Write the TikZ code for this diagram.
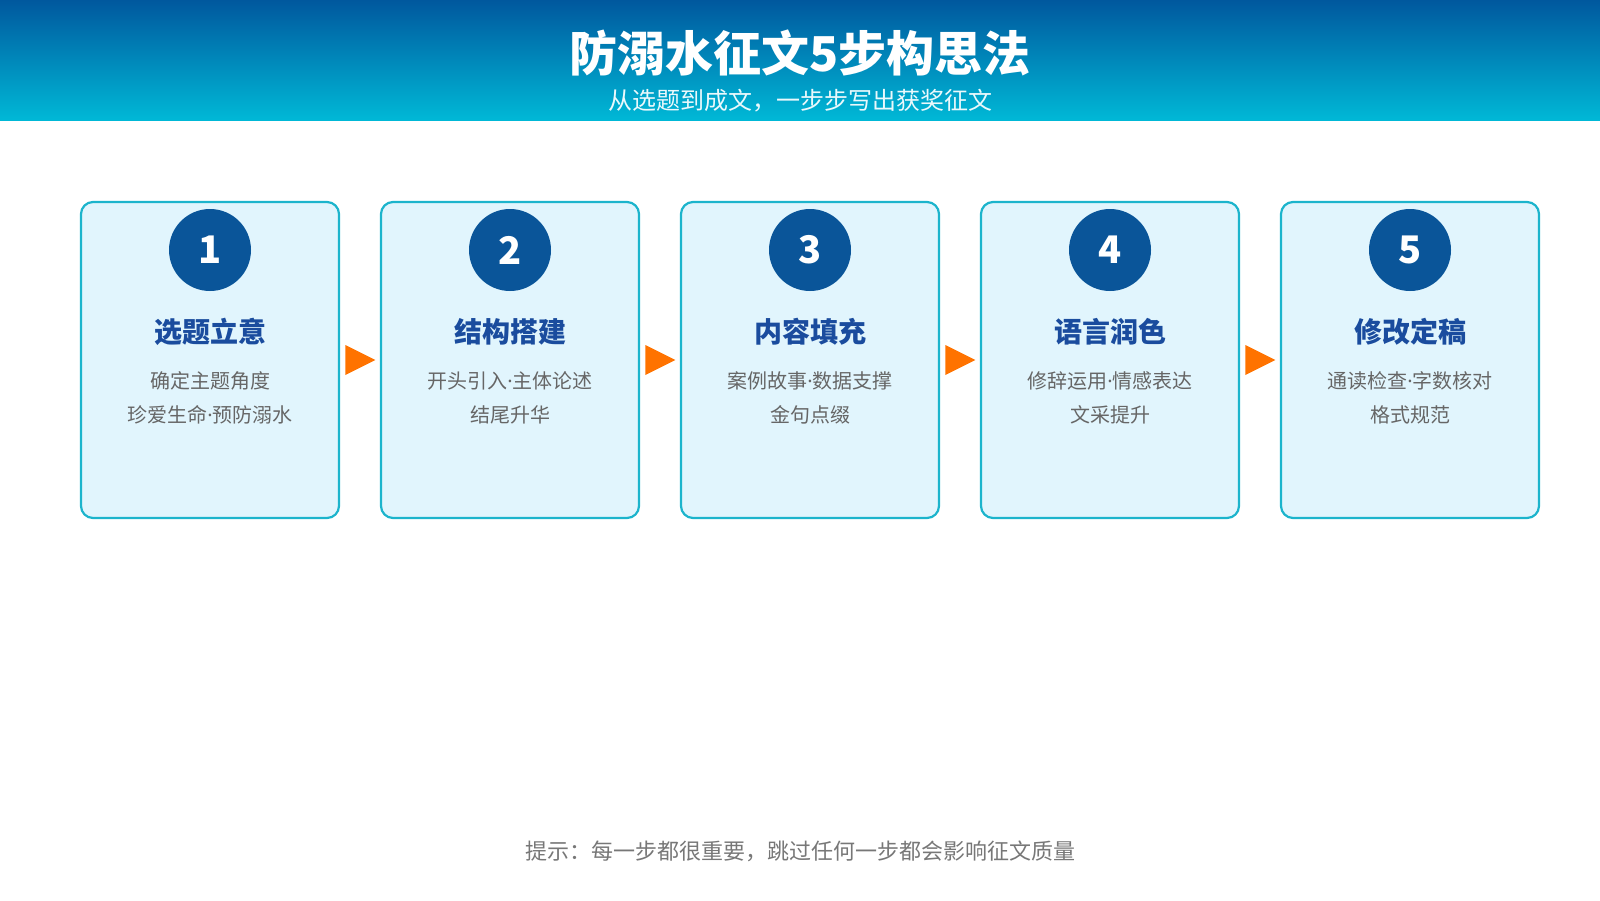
\documentclass[tikz,border=0pt]{standalone}
\usepackage{fontspec}
\setmainfont{Noto Sans CJK SC}
\newfontfamily\latinfont{Noto Sans}
\newcommand{\middot}{{\latinfont ·}}
\usetikzlibrary{positioning,calc,shapes.geometric}
\definecolor{headtop}{HTML}{00589E}
\definecolor{headbot}{HTML}{00B8D6}
\definecolor{cardline}{HTML}{1CB4CC}
\definecolor{cardfill}{HTML}{E1F5FD}
\definecolor{badgeblue}{HTML}{0A5599}
\definecolor{headblue}{HTML}{1A4C9E}
\definecolor{descgray}{HTML}{666666}
\definecolor{notegray}{HTML}{777777}
\definecolor{arroworange}{HTML}{FF7300}
\tikzstyle{stepcard}=[draw=cardline,fill=cardfill,line width=2.2pt,rounded corners=12pt,minimum width=258pt,minimum height=316pt,inner sep=0pt]
\tikzstyle{badge}=[circle,fill=badgeblue,minimum size=82pt,inner sep=0pt,text=white,font=\fontsize{38}{40}\selectfont\bfseries]
\tikzstyle{stephead}=[text=headblue,font=\fontsize{28}{30}\selectfont\bfseries,inner sep=0pt]
\tikzstyle{stepdesc}=[text=descgray,font=\fontsize{20}{22}\selectfont,inner sep=0pt]
\tikzstyle{pointer}=[isosceles triangle,isosceles triangle stretches,fill=arroworange,minimum height=30pt,minimum width=30pt,inner sep=0pt,anchor=west]

\begin{document}
\begin{tikzpicture}[x=1pt,y=-1pt]
  \useasboundingbox (0,0) rectangle (1600,900);
  % header band
  \shade[top color=headtop,bottom color=headbot] (0,0) rectangle (1600,120);
  \node (title) [text=white,font=\fontsize{48}{50}\selectfont\bfseries,inner sep=0pt] at (800,53) {防溺水征文5步构思法};
  \node (subtitle) [text=white!92!headbot,font=\fontsize{24}{26}\selectfont,inner sep=0pt] at (800,101) {从选题到成文，一步步写出获奖征文};
  % the five steps
  \foreach \i/\head/\lineA/\lineB in {1/选题立意/确定主题角度/珍爱生命\middot 预防溺水,
      2/结构搭建/开头引入\middot 主体论述/结尾升华,
      3/内容填充/案例故事\middot 数据支撑/金句点缀,
      4/语言润色/修辞运用\middot 情感表达/文采提升,
      5/修改定稿/通读检查\middot 字数核对/格式规范} {
    \node (card\i) [stepcard] at (210+300*\i-300,360) {};
    \node (badge\i) [badge] at (210+300*\i-300,250) {\i};
    \node (head\i) [stephead] at (210+300*\i-300,332) {\head};
    \node (descA\i) [stepdesc] at (210+300*\i-300,381) {\lineA};
    \node (descB\i) [stepdesc] at (210+300*\i-300,415) {\lineB};
  }
  % arrows between cards
  \foreach \i in {1,...,4} {
    \node (arrow\i) [pointer] at ($(card\i.east)+(5,0)$) {};
  }
  % footer hint
  \node (hint) [text=notegray,font=\fontsize{22}{24}\selectfont,inner sep=0pt] at (800,851) {提示：每一步都很重要，跳过任何一步都会影响征文质量};
\end{tikzpicture}
\end{document}
